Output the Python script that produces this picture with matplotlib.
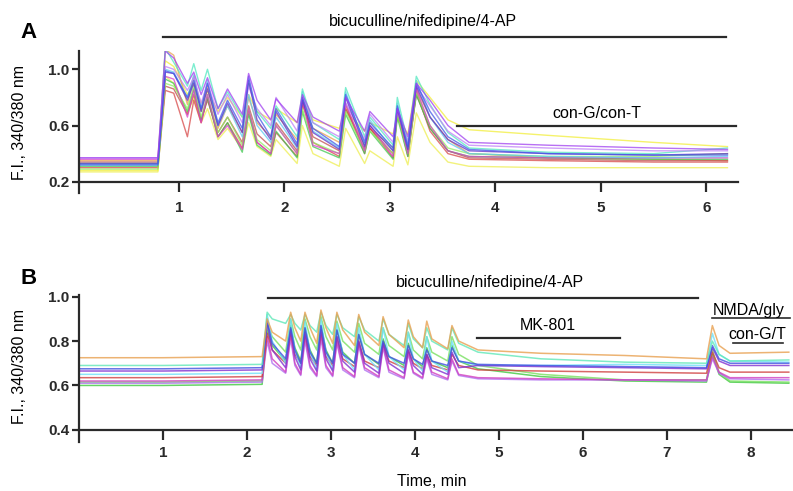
# Calcium traces (F.I. 340/380 nm) for two experiments, panels A and B

import matplotlib.pyplot as plt

plt.rcParams['font.family'] = ['Liberation Sans', 'DejaVu Sans']

# ---- Panel A data: shared time vertices (min) and one value list per cell ----
tA = [0.05, 0.80, 0.87, 0.95, 1.08, 1.14, 1.21, 1.27, 1.37, 1.46, 1.60, 1.66,
      1.74, 1.87, 1.92, 2.12, 2.17, 2.27, 2.52, 2.58, 2.76, 2.81, 3.03, 3.07,
      3.17, 3.25, 3.38, 3.55, 3.75, 4.5, 5.5, 6.2]

a_cyan = [0.33, 0.33, 1.15, 1.05, 0.88, 1.04, 0.85, 1.00, 0.72, 0.84, 0.66, 0.90,
          0.70, 0.58, 0.74, 0.52, 0.86, 0.62, 0.50, 0.87, 0.52, 0.66, 0.46, 0.80,
          0.48, 0.95, 0.75, 0.55, 0.44, 0.41, 0.40, 0.44]
a_purple = [0.37, 0.37, 1.13, 1.08, 0.90, 0.98, 0.82, 0.94, 0.72, 0.86, 0.68, 0.97,
            0.78, 0.64, 0.79, 0.62, 0.82, 0.66, 0.56, 0.80, 0.56, 0.70, 0.52, 0.72,
            0.52, 0.90, 0.78, 0.60, 0.48, 0.46, 0.44, 0.43]
a_blue = [0.32, 0.32, 0.99, 0.97, 0.80, 0.92, 0.72, 0.90, 0.62, 0.78, 0.58, 0.95,
          0.68, 0.52, 0.72, 0.47, 0.80, 0.58, 0.45, 0.82, 0.48, 0.62, 0.44, 0.74,
          0.45, 0.90, 0.70, 0.52, 0.43, 0.40, 0.39, 0.39]
a_indigo = [0.33, 0.33, 0.98, 0.97, 0.78, 0.90, 0.70, 0.86, 0.60, 0.76, 0.55, 0.92,
            0.64, 0.50, 0.70, 0.45, 0.78, 0.55, 0.43, 0.80, 0.45, 0.60, 0.42, 0.72,
            0.43, 0.88, 0.66, 0.50, 0.42, 0.40, 0.39, 0.40]
a_orange = [0.35, 0.35, 1.14, 1.10, 0.75, 0.95, 0.70, 0.88, 0.58, 0.74, 0.55, 0.80,
            0.62, 0.52, 0.68, 0.50, 0.74, 0.58, 0.48, 0.72, 0.46, 0.58, 0.44, 0.68,
            0.44, 0.86, 0.66, 0.50, 0.40, 0.37, 0.36, 0.35]
a_yellow1 = [0.28, 0.28, 1.06, 1.02, 0.82, 0.90, 0.76, 0.84, 0.70, 0.80, 0.66, 0.82,
             0.70, 0.64, 0.72, 0.62, 0.78, 0.64, 0.58, 0.70, 0.56, 0.62, 0.54, 0.66,
             0.54, 0.92, 0.80, 0.64, 0.57, 0.53, 0.48, 0.45]
a_yellow2 = [0.27, 0.27, 0.95, 0.90, 0.68, 0.80, 0.62, 0.72, 0.50, 0.58, 0.43, 0.62,
             0.45, 0.38, 0.50, 0.33, 0.60, 0.40, 0.31, 0.58, 0.33, 0.42, 0.31, 0.52,
             0.32, 0.69, 0.48, 0.34, 0.31, 0.30, 0.30, 0.30]
a_red = [0.30, 0.30, 0.85, 0.83, 0.52, 0.78, 0.62, 0.80, 0.52, 0.62, 0.44, 0.70,
         0.48, 0.40, 0.55, 0.38, 0.80, 0.48, 0.38, 0.75, 0.40, 0.58, 0.37, 0.70,
         0.38, 0.84, 0.56, 0.40, 0.36, 0.35, 0.34, 0.34]
a_magenta = [0.36, 0.36, 0.95, 0.93, 0.66, 0.85, 0.62, 0.82, 0.52, 0.60, 0.43, 0.72,
             0.48, 0.40, 0.60, 0.40, 0.78, 0.46, 0.40, 0.76, 0.42, 0.60, 0.38, 0.72,
             0.40, 0.86, 0.60, 0.42, 0.38, 0.37, 0.37, 0.37]
a_green = [0.31, 0.31, 0.93, 0.90, 0.70, 0.86, 0.64, 0.80, 0.52, 0.62, 0.41, 0.68,
           0.46, 0.39, 0.56, 0.37, 0.70, 0.45, 0.37, 0.68, 0.40, 0.56, 0.36, 0.66,
           0.38, 0.82, 0.58, 0.42, 0.38, 0.37, 0.36, 0.36]
a_lime = [0.29, 0.29, 0.90, 0.88, 0.72, 0.88, 0.66, 0.82, 0.55, 0.66, 0.46, 0.72,
          0.50, 0.42, 0.60, 0.40, 0.72, 0.48, 0.40, 0.70, 0.42, 0.56, 0.40, 0.68,
          0.40, 0.84, 0.60, 0.44, 0.40, 0.38, 0.38, 0.40]
a_violet = [0.37, 0.37, 1.02, 1.00, 0.85, 0.94, 0.76, 0.90, 0.68, 0.82, 0.62, 0.88,
            0.72, 0.60, 0.80, 0.56, 0.80, 0.62, 0.52, 0.76, 0.50, 0.68, 0.48, 0.70,
            0.48, 0.88, 0.74, 0.56, 0.46, 0.44, 0.42, 0.42]
a_darkred = [0.34, 0.34, 0.88, 0.86, 0.68, 0.82, 0.64, 0.78, 0.55, 0.66, 0.48, 0.74,
             0.54, 0.45, 0.62, 0.42, 0.76, 0.52, 0.42, 0.72, 0.43, 0.58, 0.40, 0.68,
             0.41, 0.82, 0.58, 0.42, 0.37, 0.36, 0.35, 0.35]
a_sky = [0.32, 0.32, 1.00, 0.98, 0.80, 0.96, 0.72, 0.92, 0.60, 0.74, 0.52, 0.82,
         0.60, 0.48, 0.66, 0.44, 0.84, 0.56, 0.44, 0.84, 0.46, 0.64, 0.42, 0.76,
         0.44, 0.92, 0.66, 0.48, 0.40, 0.38, 0.37, 0.38]

tracesA = [(a_yellow1, '#f2ee3a'), (a_yellow2, '#eeee50'), (a_orange, '#e8a050'),
           (a_red, '#d84848'), (a_darkred, '#c05050'), (a_green, '#40c850'),
           (a_lime, '#90ee60'), (a_magenta, '#d840c8'), (a_sky, '#60c8f0'),
           (a_cyan, '#50e8c0'), (a_violet, '#c080f8'), (a_indigo, '#6030c8'),
           (a_blue, '#4058e8'), (a_purple, '#a040f0')]

# ---- Panel B data ----
tB = [0.0, 1.0, 2.18,
      2.24, 2.30, 2.46, 2.52, 2.57, 2.64, 2.69, 2.75, 2.83,
      2.88, 2.94, 3.02, 3.07, 3.14, 3.28, 3.33, 3.40, 3.57,
      3.62, 3.69, 3.87, 3.92, 3.98, 4.09, 4.14, 4.20, 4.39,
      4.44, 4.52, 4.75, 5.5, 6.5, 7.47, 7.54, 7.62, 7.75, 8.45]

b_orange = [0.725, 0.725, 0.73, 0.90, 0.84, 0.80, 0.93, 0.86, 0.80, 0.93, 0.86, 0.79,
            0.94, 0.86, 0.79, 0.93, 0.85, 0.78, 0.92, 0.84, 0.78, 0.91, 0.83, 0.77,
            0.895, 0.82, 0.77, 0.89, 0.81, 0.765, 0.87, 0.80, 0.76, 0.745, 0.735,
            0.72, 0.87, 0.78, 0.745, 0.75]
b_aqua = [0.69, 0.69, 0.695, 0.93, 0.90, 0.88, 0.92, 0.88, 0.85, 0.92, 0.87, 0.84,
          0.93, 0.87, 0.83, 0.92, 0.86, 0.82, 0.91, 0.85, 0.80, 0.90, 0.83, 0.78,
          0.88, 0.81, 0.77, 0.86, 0.80, 0.76, 0.86, 0.79, 0.75, 0.72, 0.705,
          0.70, 0.80, 0.74, 0.71, 0.715]
b_lime = [0.615, 0.615, 0.62, 0.88, 0.82, 0.75, 0.90, 0.82, 0.76, 0.90, 0.82, 0.76,
          0.91, 0.82, 0.76, 0.89, 0.80, 0.75, 0.88, 0.79, 0.74, 0.86, 0.78, 0.73,
          0.84, 0.76, 0.72, 0.82, 0.75, 0.71, 0.82, 0.74, 0.69, 0.65, 0.625,
          0.625, 0.76, 0.66, 0.62, 0.615]
b_cyan = [0.65, 0.65, 0.655, 0.92, 0.80, 0.70, 0.90, 0.76, 0.68, 0.89, 0.75, 0.67,
          0.90, 0.75, 0.67, 0.88, 0.74, 0.67, 0.86, 0.74, 0.67, 0.86, 0.73, 0.67,
          0.84, 0.72, 0.665, 0.82, 0.71, 0.66, 0.80, 0.71, 0.69, 0.69, 0.695,
          0.69, 0.835, 0.74, 0.71, 0.705]
b_blue = [0.675, 0.675, 0.68, 0.89, 0.79, 0.72, 0.86, 0.76, 0.70, 0.86, 0.75, 0.70,
          0.87, 0.75, 0.70, 0.85, 0.74, 0.70, 0.83, 0.74, 0.70, 0.80, 0.73, 0.70,
          0.78, 0.72, 0.695, 0.76, 0.71, 0.69, 0.77, 0.71, 0.695, 0.69, 0.685,
          0.68, 0.78, 0.72, 0.70, 0.70]
b_purple = [0.665, 0.665, 0.67, 0.88, 0.76, 0.68, 0.85, 0.73, 0.67, 0.84, 0.72, 0.665,
            0.85, 0.72, 0.665, 0.82, 0.71, 0.66, 0.80, 0.70, 0.655, 0.79, 0.70, 0.655,
            0.76, 0.69, 0.65, 0.74, 0.68, 0.65, 0.75, 0.68, 0.69, 0.685, 0.68,
            0.675, 0.77, 0.71, 0.69, 0.69]
b_red = [0.635, 0.635, 0.64, 0.835, 0.76, 0.70, 0.84, 0.74, 0.70, 0.83, 0.73, 0.69,
         0.84, 0.73, 0.69, 0.82, 0.72, 0.685, 0.80, 0.71, 0.68, 0.79, 0.71, 0.68,
         0.76, 0.70, 0.675, 0.74, 0.69, 0.67, 0.74, 0.69, 0.67, 0.665, 0.66,
         0.655, 0.75, 0.68, 0.66, 0.66]
b_magenta = [0.62, 0.62, 0.625, 0.82, 0.72, 0.66, 0.83, 0.70, 0.65, 0.82, 0.69, 0.645,
             0.83, 0.69, 0.645, 0.80, 0.68, 0.64, 0.79, 0.68, 0.64, 0.78, 0.67, 0.635,
             0.75, 0.66, 0.635, 0.73, 0.66, 0.63, 0.72, 0.65, 0.635, 0.63, 0.625,
             0.625, 0.73, 0.66, 0.635, 0.635]
b_violet = [0.61, 0.61, 0.615, 0.80, 0.70, 0.655, 0.81, 0.69, 0.645, 0.80, 0.68, 0.64,
            0.81, 0.68, 0.64, 0.79, 0.67, 0.635, 0.78, 0.67, 0.635, 0.77, 0.66, 0.63,
            0.74, 0.655, 0.63, 0.72, 0.65, 0.625, 0.71, 0.645, 0.63, 0.625, 0.625,
            0.62, 0.72, 0.655, 0.63, 0.625]
b_green = [0.60, 0.60, 0.605, 0.85, 0.78, 0.71, 0.87, 0.77, 0.71, 0.86, 0.76, 0.70,
           0.87, 0.76, 0.70, 0.85, 0.75, 0.70, 0.83, 0.74, 0.695, 0.81, 0.73, 0.69,
           0.79, 0.72, 0.685, 0.77, 0.71, 0.68, 0.78, 0.71, 0.675, 0.64, 0.62,
           0.615, 0.74, 0.65, 0.615, 0.61]

tracesB = [(b_green, '#40c840'), (b_lime, '#78e060'), (b_violet, '#b070f0'),
           (b_magenta, '#d040c0'), (b_red, '#d04040'), (b_cyan, '#70e0f8'),
           (b_purple, '#8030d0'), (b_blue, '#4050e0'), (b_aqua, '#60e8b8'),
           (b_orange, '#e8a050')]

axis_color = '#2a2a2a'

fig = plt.figure(figsize=(7.93, 4.91), dpi=100)


def style_axes(ax, ybase, xpad):
    for s in ['top', 'right']:
        ax.spines[s].set_visible(False)
    ax.spines['bottom'].set_position(('data', ybase))
    for s in ['left', 'bottom']:
        ax.spines[s].set_linewidth(1.6)
        ax.spines[s].set_color(axis_color)
    ax.tick_params(axis='x', direction='out', length=7, width=1.6, pad=xpad,
                   colors=axis_color, labelsize=11)
    ax.tick_params(axis='y', direction='out', length=5, width=1.6, pad=2,
                   colors=axis_color, labelsize=11)
    for lbl in ax.get_xticklabels() + ax.get_yticklabels():
        lbl.set_fontweight('bold')


# ---- Panel A ----
axA = fig.add_axes([79 / 793, 1 - 193 / 491, (738 - 79) / 793, (193 - 51) / 491])
for vals, col in tracesA:
    axA.plot(tA, vals, color=col, lw=1.0, alpha=0.75)
axA.set_xlim(0.052, 6.30)
axA.set_ylim(0.12, 1.13)
axA.set_xticks([1, 2, 3, 4, 5, 6])
axA.set_yticks([0.2, 0.6, 1.0])
axA.set_yticklabels(['0.2', '0.6', '1.0'])
style_axes(axA, 0.2, 7)

axA.plot([0.85, 6.19], [1.228, 1.228], color=axis_color, lw=1.6, clip_on=False)
axA.text(3.31, 1.34, 'bicuculline/nifedipine/4-AP', ha='center', va='center',
         fontsize=11.5, clip_on=False)
axA.plot([3.64, 6.28], [0.60, 0.60], color=axis_color, lw=1.6, clip_on=False)
axA.text(4.96, 0.685, 'con-G/con-T', ha='center', va='center', fontsize=11.5)

# ---- Panel B ----
axB = fig.add_axes([79 / 793, 1 - 442 / 491, (793 - 79) / 793, (442 - 294.5) / 491])
for vals, col in tracesB:
    axB.plot(tB, vals, color=col, lw=1.1, alpha=0.8)
axB.set_xlim(0.0, 8.5)
axB.set_ylim(0.345, 1.01)
axB.set_xticks([1, 2, 3, 4, 5, 6, 7, 8])
axB.set_yticks([0.4, 0.6, 0.8, 1.0])
axB.set_yticklabels(['0.4', '0.6', '0.8', '1.0'])
style_axes(axB, 0.4, 5)

axB.plot([2.25, 7.37], [0.995, 0.995], color=axis_color, lw=1.6, clip_on=False)
axB.text(4.89, 1.062, 'bicuculline/nifedipine/4-AP', ha='center', va='center',
         fontsize=11.5, clip_on=False)
axB.plot([4.74, 6.44], [0.815, 0.815], color=axis_color, lw=1.6)
axB.text(5.58, 0.868, 'MK-801', ha='center', va='center', fontsize=11.5)
axB.text(7.54, 0.936, 'NMDA/gly', ha='left', va='center', fontsize=11.5)
axB.plot([7.54, 8.47], [0.903, 0.903], color=axis_color, lw=1.2, clip_on=False)
axB.text(7.73, 0.828, 'con-G/T', ha='left', va='center', fontsize=11.5)
axB.plot([7.79, 8.38], [0.79, 0.79], color=axis_color, lw=1.2, clip_on=False)

# ---- shared labels ----
fig.text(29 / 793, 1 - 33 / 491, 'A', fontsize=16, fontweight='bold',
         ha='center', va='center')
fig.text(29 / 793, 1 - 278 / 491, 'B', fontsize=16, fontweight='bold',
         ha='center', va='center')
fig.text(20 / 793, 1 - 123 / 491, 'F.I., 340/380 nm', rotation=90,
         fontsize=11.5, ha='center', va='center')
fig.text(20 / 793, 1 - 367 / 491, 'F.I., 340/380 nm', rotation=90,
         fontsize=11.5, ha='center', va='center')
fig.text(432 / 793, 1 - 482 / 491, 'Time, min', fontsize=11.5,
         ha='center', va='center')

plt.savefig('out.png', dpi=100)
